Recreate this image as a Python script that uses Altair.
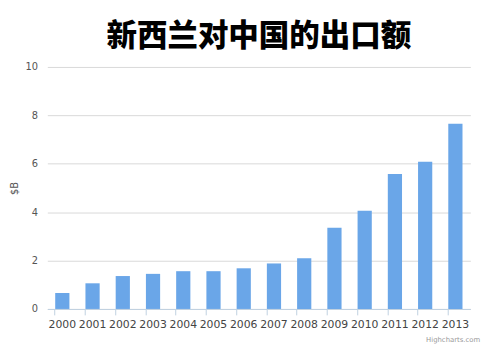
import altair as alt
import pandas as pd

years = ["2000", "2001", "2002", "2003", "2004", "2005", "2006",
         "2007", "2008", "2009", "2010", "2011", "2012", "2013"]
exports = [0.66, 1.06, 1.36, 1.45, 1.56, 1.56, 1.68,
           1.88, 2.09, 3.36, 4.06, 5.58, 6.08, 7.65]

df = pd.DataFrame({"year": years, "value": exports})

bars = alt.Chart(df).mark_bar(color="#6aa6e8").encode(
    x=alt.X("year:N", sort=years, title=None,
            scale=alt.Scale(paddingInner=0.53, paddingOuter=0.26),
            axis=alt.Axis(labelAngle=0, labelFont="DejaVu Sans", labelFontSize=11,
                          labelColor="#444444", labelPadding=4,
                          domainColor="#c0d0e0", tickColor="#c0d0e0",
                          tickSize=6, bandPosition=0, grid=False)),
    y=alt.Y("value:Q", title="$B",
            scale=alt.Scale(domain=[0, 10]),
            axis=alt.Axis(values=[0, 2, 4, 6, 8, 10], labelFont="DejaVu Sans",
                          labelFontSize=10, labelColor="#555555", labelPadding=10,
                          ticks=False, domain=False, gridColor="#d8d8d8",
                          titleFont="DejaVu Sans", titleFontSize=10,
                          titleFontWeight="normal", titleColor="#555555",
                          titlePadding=6)),
)

credit = alt.Chart(pd.DataFrame({"t": ["Highcharts.com"]})).mark_text(
    font="DejaVu Sans", fontSize=7, color="#999999", align="right"
).encode(text="t:N", x=alt.value(440), y=alt.value(278))

chart = alt.layer(bars, credit).properties(
    width=430, height=246,
    padding={"left": 40, "top": 57, "right": 22, "bottom": 51},
    autosize=alt.AutoSizeParams(type="none"),
    title=alt.TitleParams("新西兰对中国的出口额", font="Noto Sans CJK SC",
                          fontSize=31, fontWeight=900, color="#000000",
                          anchor="middle", offset=9),
).configure_view(stroke=None)

chart.save("out.html", embed_options={"renderer": "svg", "actions": False})
